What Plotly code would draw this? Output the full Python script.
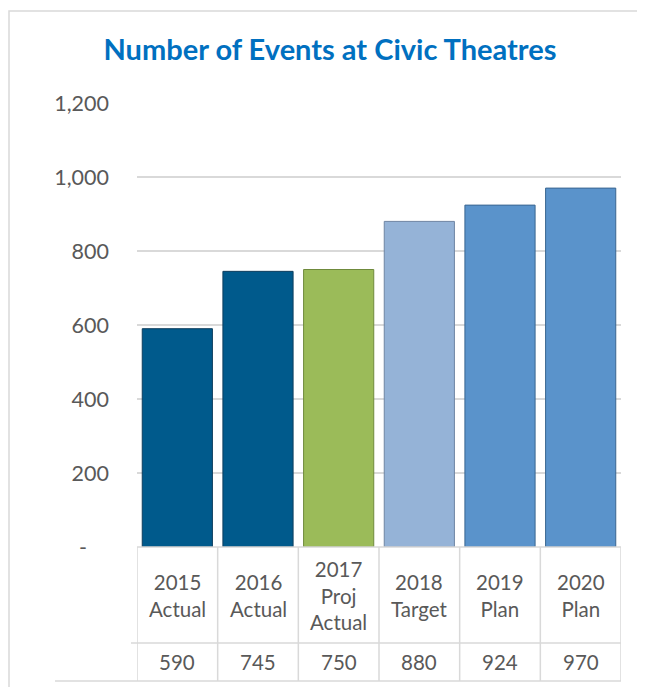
import plotly.graph_objects as go

categories = ["2015<br>Actual", "2016<br>Actual", "2017<br>Proj<br>Actual",
              "2018<br>Target", "2019<br>Plan", "2020<br>Plan"]
values = [590, 745, 750, 880, 924, 970]
y_ticks = [0, 200, 400, 600, 800, 1000, 1200]
y_tick_labels = ["-    ", "200", "400", "600", "800", "1,000", "1,200"]
title_text = "Number of Events at Civic Theatres"

bar_colors = ["#005A8C", "#005A8C", "#9BBB59", "#95B3D7", "#5A93CB", "#5A93CB"]
line_colors = ["#0E3E5E", "#0E3E5E", "#6F8A3C", "#6E85A3", "#3A6690", "#3A6690"]

OFF = 8  # page body margin
W, H = 645 - OFF, 687 - OFF
L, T = 137 - OFF, 103 - OFF
plot_w, plot_h = 484, 444
R = W - L - plot_w
B = H - T - plot_h

def py_paper(py):  # py in screenshot pixels
    return (H - B - (py - OFF)) / plot_h

def px_paper(px):
    return (px - OFF - L) / plot_w

FONT = "Lato, 'Open Sans', sans-serif"
TXT = "#595959"
GRID = "#D9D9D9"

xs = list(range(len(categories)))

fig = go.Figure()
fig.add_trace(go.Bar(
    x=xs, y=values,
    marker=dict(color=bar_colors, line=dict(color=line_colors, width=1)),
    hoverinfo="skip",
))

shapes = []
row1 = py_paper(643)
row2 = py_paper(681)
shapes.append(dict(type="rect", xref="paper", yref="paper",
                   x0=px_paper(9), x1=px_paper(720),
                   y0=py_paper(760), y1=py_paper(11),
                   line=dict(color=GRID, width=1.5), layer="below"))
for i in range(len(categories) + 1):
    shapes.append(dict(type="line", xref="x", yref="paper",
                       x0=i - 0.5, x1=i - 0.5, y0=0, y1=row2,
                       line=dict(color=GRID, width=1.5)))
shapes.append(dict(type="line", xref="paper", yref="paper",
                   x0=0, x1=1, y0=0, y1=0, line=dict(color=GRID, width=1.5)))
shapes.append(dict(type="line", xref="paper", yref="paper",
                   x0=px_paper(131), x1=1, y0=row1, y1=row1,
                   line=dict(color=GRID, width=1.5)))
shapes.append(dict(type="line", xref="paper", yref="paper",
                   x0=px_paper(55), x1=1, y0=row2, y1=row2,
                   line=dict(color=GRID, width=1.5)))

annotations = []
for i, (c, v) in enumerate(zip(categories, values)):
    annotations.append(dict(x=i, y=row1 / 2, xref="x", yref="paper",
                            text=c, showarrow=False, yanchor="middle",
                            font=dict(family=FONT, size=20.5, color=TXT)))
    annotations.append(dict(x=i, y=(row1 + row2) / 2, xref="x", yref="paper",
                            text=f"{v:,}", showarrow=False, yanchor="middle",
                            font=dict(family=FONT, size=20.5, color=TXT)))

fig.update_layout(
    width=W, height=H,
    margin=dict(l=L, r=R, t=T, b=B),
    paper_bgcolor="white", plot_bgcolor="white",
    showlegend=False,
    bargap=0.13,
    title=dict(text=f"<b>{title_text}</b>", x=(330 - OFF) / W, xref="container",
               xanchor="center", y=1 - (50 - OFF) / H, yref="container",
               yanchor="middle",
               font=dict(family=FONT, size=29, color="#0070C0")),
    xaxis=dict(range=[-0.5, len(categories) - 0.5], showticklabels=False,
               showgrid=False, zeroline=False, showline=False, ticks=""),
    yaxis=dict(range=[0, 1200], tickvals=y_ticks, ticktext=y_tick_labels,
               showgrid=True, gridcolor=GRID, gridwidth=1.5, zeroline=False,
               showline=False, ticks="", ticklabelstandoff=27,
               tickfont=dict(family=FONT, size=21.5, color=TXT)),
    shapes=shapes,
    annotations=annotations,
)

fig.write_html("out.html")
